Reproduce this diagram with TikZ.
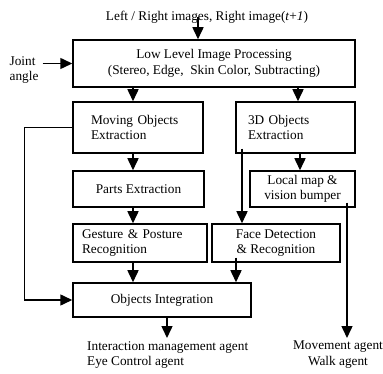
\documentclass[tikz,border=0pt]{standalone}
\usepackage{fontspec}
\setmainfont{Liberation Serif}
\usetikzlibrary{arrows.meta}
\begin{document}
\begin{tikzpicture}[x=1pt,y=-1pt,
  font=\fontsize{13.3}{15.5}\selectfont,
  box/.style={draw, line width=1.5pt, inner sep=0pt, align=center},
  lbl/.style={inner sep=0pt},
  arr/.style={line width=1.5pt, -{Triangle[width=11pt,length=12pt]}}]
\useasboundingbox (0,0) rectangle (383,374);

% processing blocks
\node[box, minimum width=282pt, minimum height=47pt] (low) at (214,63.5)
  {Low Level Image Processing\\(Stereo, Edge,~ Skin Color, Subtracting)};
\node[box, align=left, text width=94pt, inner xsep=18pt, minimum height=51pt] (mov) at (138,127.5)
  {Moving Objects\\Extraction};
\node[box, align=left, text width=95pt, inner xsep=12pt, minimum height=51pt] (d3) at (295.5,127.5)
  {3D Objects\\Extraction};
\node[box, minimum width=131pt, minimum height=36pt] (parts) at (138.5,189)
  {Parts Extraction};
\node[box, minimum width=105pt, minimum height=36pt] (local) at (302.5,189)
  {Local map \&\\vision bumper};
\node[box, align=left, text width=116pt, inner xsep=9pt, minimum height=38pt] (gest) at (140,243)
  {Gesture \& Posture\\Recognition};
\node[box, minimum width=128pt, minimum height=38pt] (face) at (276,243)
  {Face Detection\\\& Recognition};
\node[box, minimum width=178pt, minimum height=34pt] (integ) at (162,300)
  {Objects Integration};

% inputs and outputs
\node[lbl] (title) at (207,17) {Left / Right images, Right image(\textit{t}+\textit{1})};
\node[lbl, align=left] (joint) at (24,70) {Joint\\angle};
\node[lbl, align=left, anchor=north west, inner ysep=3pt] (out) at (87,338)
  {Interaction management agent\\Eye Control agent};
\node[lbl, align=center, anchor=north, inner ysep=3pt] (move) at (338,338)
  {Movement agent\\Walk agent};

% connectors
\draw[arr] ([xshift=-9pt,yshift=6pt]title.south) -- ([xshift=-9pt]title.south |- low.north);
\draw[arr] ([xshift=4pt]joint.east |- low.west) -- (low.west);
\draw[arr] ([xshift=-5pt]mov.north |- low.south) -- ([xshift=-5pt]mov.north);
\draw[arr] ([xshift=2.5pt]d3.north |- low.south) -- ([xshift=2.5pt]d3.north);
\draw[arr] ([xshift=-5.5pt]parts.north |- mov.south) -- ([xshift=-5.5pt]parts.north);
\draw[arr] ([xshift=-7pt]gest.north |- parts.south) -- ([xshift=-7pt]gest.north);
\draw[arr] ([xshift=-2.5pt]local.north |- d3.south) -- ([xshift=-2.5pt]local.north);
\draw[arr] ([xshift=-34pt,yshift=5pt]face.north |- d3.south) -- ([xshift=-34pt]face.north);
\draw[arr] ([xshift=44.5pt,yshift=5pt]local.south) -- ([xshift=44.5pt]local.south |- move.north);
\draw[arr] ([xshift=-29pt]integ.north |- gest.south) -- ([xshift=-29pt]integ.north);
\draw[arr] ([xshift=74pt,yshift=5pt]integ.north |- face.south) -- ([xshift=74pt]integ.north);
\draw[arr] ([xshift=5pt]integ.south) -- ([xshift=5pt]integ.south |- out.north);
\draw[arr] (mov.west) -- ++(-48,0) |- (integ.west);
\end{tikzpicture}
\end{document}
